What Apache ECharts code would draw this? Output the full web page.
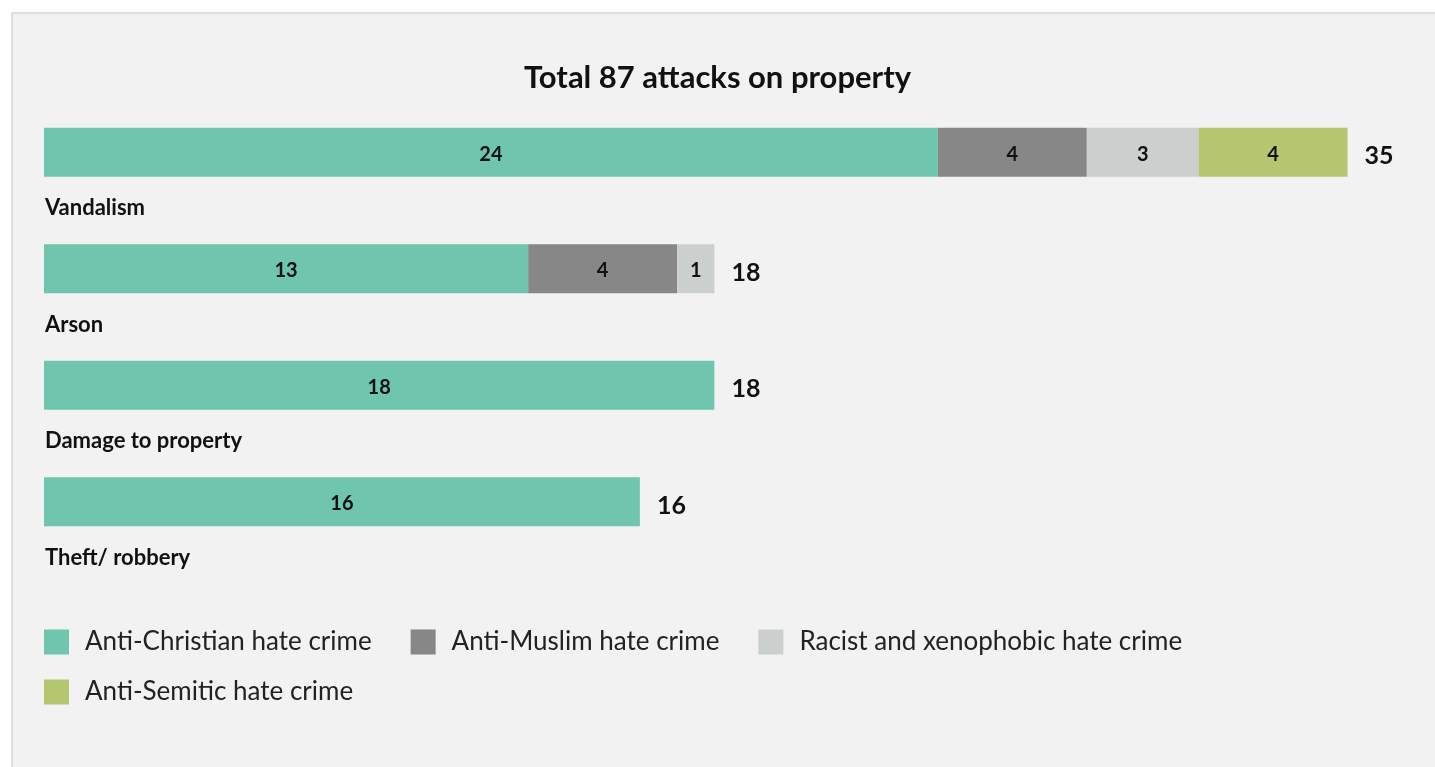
<!DOCTYPE html>
<html>
<head>
<meta charset="utf-8">
<script src="https://cdn.jsdelivr.net/npm/echarts@6/dist/echarts.min.js"></script>
<style>
html,body{margin:0;padding:0;background:#fff;width:1435px;height:767px;overflow:hidden;}
#frame{position:absolute;left:11px;top:12px;width:1424px;height:755px;background:#f2f2f2;border-left:2px solid #dddddd;border-top:2px solid #dddddd;box-sizing:border-box;}
#chart{position:absolute;left:0;top:0;width:1435px;height:767px;}
</style>
</head>
<body>
<div id="frame"></div>
<div id="chart"></div>
<script>
const titleText = 'Total 87 attacks on property';
const categories = ['Vandalism', 'Arson', 'Damage to property', 'Theft/ robbery'];
const seriesNames = ['Anti-Christian hate crime', 'Anti-Muslim hate crime', 'Racist and xenophobic hate crime', 'Anti-Semitic hate crime'];
const antiChristian = [24, 13, 18, 16];
const antiMuslim = [4, 4, 0, 0];
const racist = [3, 1, 0, 0];
const antiSemitic = [4, 0, 0, 0];
const totals = [35, 18, 18, 16];
const colors = ['#6fc5ad', '#878787', '#cbcfce', '#b4c670'];

const FONT = 'Lato, "Noto Sans", sans-serif';
const values = [antiChristian, antiMuslim, racist, antiSemitic];

const series = values.map((vals, i) => ({
  name: seriesNames[i],
  type: 'bar',
  stack: 'all',
  barWidth: 49,
  data: vals,
  itemStyle: { color: colors[i] },
  label: {
    show: true,
    position: 'inside',
    offset: [0, 2],
    color: '#111',
    fontFamily: FONT,
    fontWeight: 'bold',
    fontSize: 20,
    formatter: p => (p.value ? String(p.value) : '')
  },
  emphasis: { disabled: true }
}));

series.push({
  name: 'total',
  type: 'bar',
  stack: 'all',
  barWidth: 49,
  data: totals.map(() => 0),
  itemStyle: { color: 'rgba(0,0,0,0)' },
  label: {
    show: true,
    position: 'right',
    distance: 17,
    offset: [0, 4],
    color: '#111',
    fontFamily: FONT,
    fontWeight: 'bold',
    fontSize: 25,
    formatter: p => String(totals[p.dataIndex])
  },
  emphasis: { disabled: true }
});

const legendCommon = {
  left: 44,
  padding: 0,
  icon: 'rect', itemWidth: 25, itemHeight: 25, itemGap: 39,
  textStyle: { fontFamily: FONT, fontSize: 26, color: '#222', padding: [0, 0, 0, 11] },
  selectedMode: false
};

const chart = echarts.init(document.getElementById('chart'), null, { renderer: 'canvas' });
chart.setOption({
  backgroundColor: 'transparent',
  animation: false,
  title: {
    text: titleText,
    left: 'center',
    top: 62,
    padding: 0,
    textStyle: { fontFamily: FONT, fontWeight: 'bold', fontSize: 31, color: '#111' }
  },
  legend: [
    Object.assign({}, legendCommon, { data: seriesNames.slice(0, 3), top: 629 }),
    Object.assign({}, legendCommon, { data: seriesNames.slice(3), top: 679 })
  ],
  grid: { left: 44, right: 13, top: 94, bottom: 207, containLabel: false },
  xAxis: {
    type: 'value', min: 0, max: 37,
    show: false
  },
  yAxis: {
    type: 'category',
    inverse: true,
    data: categories,
    axisLine: { show: false },
    axisTick: { show: false },
    splitLine: { show: false },
    axisLabel: {
      inside: true,
      interval: 0,
      margin: 1,
      verticalAlign: 'top',
      padding: [45, 0, 0, 0],
      fontFamily: FONT,
      fontWeight: 'bold',
      fontSize: 22,
      color: '#111'
    }
  },
  series: series
});
</script>
</body>
</html>
